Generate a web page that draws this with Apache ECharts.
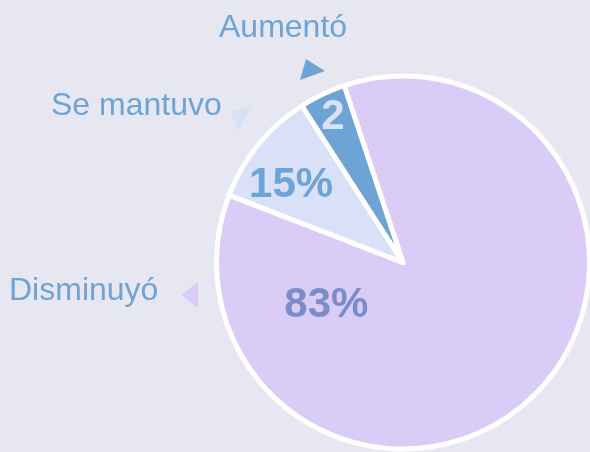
<!DOCTYPE html>
<html>
<head>
<meta charset="utf-8">
<script src="https://cdn.jsdelivr.net/npm/echarts@6/dist/echarts.min.js"></script>
<style>
  html, body { margin: 0; padding: 0; background: #e7e7f1; }
  #chart { width: 590px; height: 452px; }
</style>
</head>
<body>
<div id="chart"></div>
<script>
// data, in drawing order (clockwise from the top boundary)
const categories = ['Disminuyó', 'Se mantuvo', 'Aumentó']
const values = [86, 10, 4]
const sliceLabels = ['83%', '15%', '2']

const sliceColors = ['#d9ccf7', '#d9e1f8', '#6ea3d6']
const labelColors = ['#7b8cc9', '#6ea3d6', '#d9e1f8']

const center = [403, 262.5]
const radius = 186.5
// where each value label sits: polar angle (deg) and fraction of radius
const labelPolar = [[209, 0.47], [145.3, 0.73], [115.7, 0.866]]

// name annotations with their little triangle markers
const notes = [
  { x: 9, y: 291, tri: [[198, 282], [181, 295], [198, 308]] },
  { x: 51, y: 106, tri: [[230, 111], [251, 107], [239, 131]] },
  { x: 219, y: 28, tri: [[306, 59], [325, 71], [300, 80]] }
]

const chart = echarts.init(document.getElementById('chart'))

const graphic = []
categories.forEach((name, i) => {
  graphic.push({
    type: 'text',
    x: notes[i].x,
    y: notes[i].y,
    style: {
      text: name,
      fill: '#6ea3d6',
      font: '32px "Liberation Sans", Arial, sans-serif',
      verticalAlign: 'middle'
    }
  })
  graphic.push({
    type: 'polygon',
    shape: { points: notes[i].tri },
    style: { fill: sliceColors[i] }
  })
})

chart.setOption({
  backgroundColor: '#e7e7f1',
  animation: false,
  graphic,
  series: [{
    type: 'pie',
    center,
    radius,
    startAngle: 108.4,
    clockwise: true,
    data: categories.map((name, i) => ({
      name,
      value: values[i],
      itemStyle: { color: sliceColors[i] },
      label: { color: labelColors[i] }
    })),
    itemStyle: {
      borderColor: '#ffffff',
      borderWidth: 5
    },
    label: {
      show: true,
      position: 'inside',
      formatter: p => sliceLabels[p.dataIndex],
      fontFamily: '"Liberation Sans", Arial, sans-serif',
      fontWeight: 'bold',
      fontSize: 42
    },
    labelLine: { show: false },
    labelLayout: p => {
      const [deg, f] = labelPolar[p.dataIndex]
      const a = deg * Math.PI / 180
      return {
        x: center[0] + Math.cos(a) * radius * f,
        y: center[1] - Math.sin(a) * radius * f,
        align: 'center',
        verticalAlign: 'middle'
      }
    },
    emphasis: { disabled: true }
  }]
})
</script>
</body>
</html>
